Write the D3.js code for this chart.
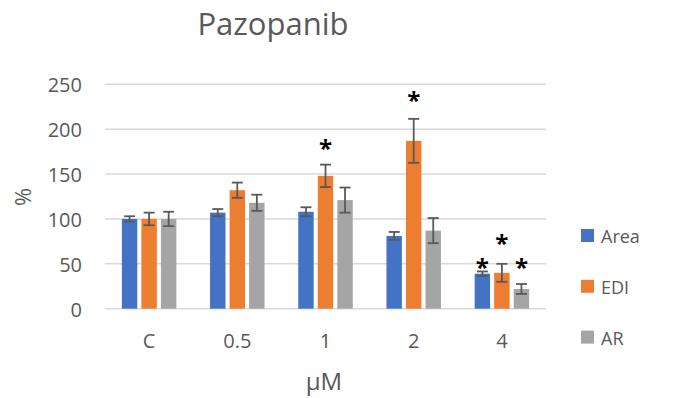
<!DOCTYPE html>
<html>
<head>
<meta charset="utf-8">
<script src="https://cdn.jsdelivr.net/npm/d3@7"></script>
<style>
  html, body { margin: 0; padding: 0; background: #fff; }
  svg text { font-family: "Open Sans", "Noto Sans", sans-serif; }
</style>
</head>
<body>
<svg id="chart" width="678" height="398"></svg>
<script>
// Concentrations (x categories)
const categories = ["C", "0.5", "1", "2", "4"];
const seriesNames = ["Area", "EDI", "AR"];
const seriesColors = ["#4472c4", "#ed7d31", "#a5a5a5"];

// Mean values (% of control) per series
const areaValues = [100, 107, 108, 81, 39];
const ediValues  = [100, 132, 148, 187, 40];
const arValues   = [100, 118, 121, 87, 22];

// Error bar half-widths
const areaErrors = [3, 4, 5, 4.5, 2.5];
const ediErrors  = [7, 8.5, 12.5, 24.5, 10];
const arErrors   = [8, 9, 14, 14, 5.5];

// Significance markers: category, series, and the value level the asterisk sits at
const starCats   = ["1", "2", "4", "4", "4"];
const starSeries = ["EDI", "EDI", "Area", "EDI", "AR"];
const starLevels = [182, 236, 49.5, 76.5, 49.5];

const yTicks = [0, 50, 100, 150, 200, 250];

const values = [areaValues, ediValues, arValues];
const errors = [areaErrors, ediErrors, arErrors];

const svg = d3.select("#chart");
const plot = { left: 105, right: 546, top: 84.3, bottom: 308.7 };

const x = d3.scaleBand().domain(categories).range([plot.left, plot.right]).paddingInner(0).paddingOuter(0);
const xs = d3.scaleBand().domain(seriesNames).range([0, 54.5]).paddingInner(0.21);
const y = d3.scaleLinear().domain([0, 250]).range([plot.bottom, plot.top]);

// Title
svg.append("text")
  .attr("x", 273).attr("y", 35)
  .attr("text-anchor", "middle")
  .attr("font-size", 31)
  .attr("fill", "#595959")
  .text("Pazopanib");

// Gridlines
svg.append("g").selectAll("line").data(yTicks).join("line")
  .attr("x1", plot.left).attr("x2", plot.right)
  .attr("y1", d => y(d)).attr("y2", d => y(d))
  .attr("stroke", "#d9d9d9").attr("stroke-width", 1.5);

// Y axis labels
const yAxis = d3.axisLeft(y).tickValues(yTicks).tickSize(0).tickPadding(0);
const yg = svg.append("g").attr("transform", `translate(${plot.left - 23},1)`).call(yAxis);
yg.select(".domain").remove();
yg.selectAll("text").attr("font-size", 20).attr("fill", "#595959")
  .attr("font-family", "'Open Sans', sans-serif");

// Y axis title
svg.append("text")
  .attr("transform", "translate(31,197) rotate(-90)")
  .attr("text-anchor", "middle")
  .attr("font-size", 22)
  .attr("fill", "#595959")
  .text("%");

// X axis labels
const xAxis = d3.axisBottom(x).tickSize(0).tickPadding(0);
const xg = svg.append("g").attr("transform", `translate(0,${plot.bottom + 32})`).call(xAxis);
xg.select(".domain").remove();
xg.selectAll("text").attr("font-size", 20).attr("fill", "#595959")
  .attr("dy", "0.35em")
  .attr("font-family", "'Open Sans', sans-serif");

// X axis title
svg.append("text")
  .attr("x", 324).attr("y", 390)
  .attr("text-anchor", "middle")
  .attr("font-size", 24)
  .attr("fill", "#595959")
  .text("μM");

// Bars and error bars
const groupOffset = (x.bandwidth() - xs.range()[1]) / 2;
seriesNames.forEach((name, si) => {
  const g = svg.append("g");
  const rows = categories.map((c, i) => ({ c, v: values[si][i], e: errors[si][i] }));
  g.selectAll("rect").data(rows).join("rect")
    .attr("x", d => x(d.c) + groupOffset + xs(name))
    .attr("y", d => y(d.v))
    .attr("width", xs.bandwidth())
    .attr("height", d => y(0) - y(d.v))
    .attr("fill", seriesColors[si]);

  const eb = g.selectAll("g.err").data(rows).join("g").attr("class", "err");
  const cx = d => x(d.c) + groupOffset + xs(name) + xs.bandwidth() / 2;
  eb.append("line")
    .attr("x1", cx).attr("x2", cx)
    .attr("y1", d => y(d.v + d.e)).attr("y2", d => y(d.v - d.e))
    .attr("stroke", "#595959").attr("stroke-width", 1.8);
  [1, -1].forEach(sgn => {
    eb.append("line")
      .attr("x1", d => cx(d) - 5.5).attr("x2", d => cx(d) + 5.5)
      .attr("y1", d => y(d.v + sgn * d.e)).attr("y2", d => y(d.v + sgn * d.e))
      .attr("stroke", "#595959").attr("stroke-width", 1.8);
  });
});

// Asterisks
const stars = starCats.map((c, i) => ({ c, s: starSeries[i], v: starLevels[i] }));
svg.append("g").selectAll("text").data(stars).join("text")
  .attr("x", d => x(d.c) + groupOffset + xs(d.s) + xs.bandwidth() / 2)
  .attr("y", d => y(d.v) + 12)
  .attr("text-anchor", "middle")
  .attr("font-size", 24)
  .attr("font-weight", "bold")
  .attr("fill", "#000")
  .text("*");

// Legend
const legend = svg.append("g").selectAll("g").data(seriesNames).join("g")
  .attr("transform", (d, i) => `translate(581,${229 + i * 50.8})`);
legend.append("rect")
  .attr("width", 13).attr("height", 13)
  .attr("fill", (d, i) => seriesColors[i]);
legend.append("text")
  .attr("x", 20).attr("y", 14)
  .attr("font-size", 18)
  .attr("fill", "#595959")
  .text(d => d);
</script>
</body>
</html>
